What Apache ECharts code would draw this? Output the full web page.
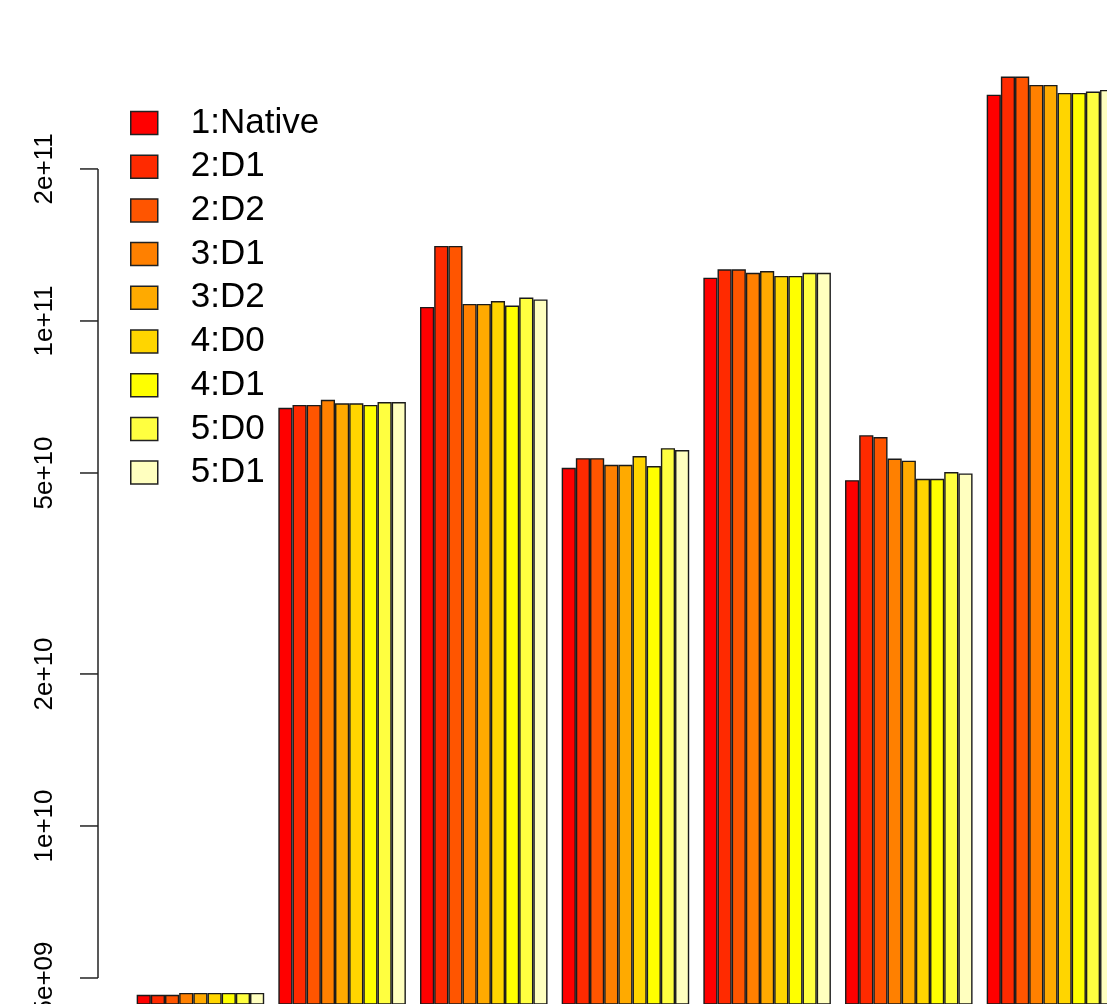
<!DOCTYPE html>
<html>
<head>
<meta charset="utf-8">
<title>Throughput by configuration</title>
<script src="https://cdn.jsdelivr.net/npm/echarts@6/dist/echarts.min.js"></script>
<style>
  html, body { margin: 0; padding: 0; background: #ffffff; }
  #chart { width: 1107px; height: 1004px; }
</style>
</head>
<body>
<div id="chart"></div>
<script>
// Benchmark groups (one cluster of bars each)
const groups = ['Bench 1', 'Bench 2', 'Bench 3', 'Bench 4', 'Bench 5', 'Bench 6', 'Bench 7'];

// Configuration names, in legend / bar order
const variants = ['1:Native', '2:D1', '2:D2', '3:D1', '3:D2', '4:D0', '4:D1', '5:D0', '5:D1'];

// Measured values per configuration, one entry per benchmark group
const native = [4.63e9, 6.73e10, 1.066e11, 5.12e10, 1.218e11, 4.84e10, 2.806e11];
const d2_1   = [4.63e9, 6.82e10, 1.408e11, 5.35e10, 1.266e11, 5.94e10, 3.047e11];
const d2_2   = [4.63e9, 6.82e10, 1.408e11, 5.35e10, 1.266e11, 5.89e10, 3.047e11];
const d3_1   = [4.67e9, 6.98e10, 1.081e11, 5.19e10, 1.246e11, 5.34e10, 2.934e11];
const d3_2   = [4.67e9, 6.87e10, 1.081e11, 5.19e10, 1.256e11, 5.29e10, 2.934e11];
const d4_0   = [4.67e9, 6.87e10, 1.095e11, 5.40e10, 1.228e11, 4.87e10, 2.829e11];
const d4_1   = [4.67e9, 6.82e10, 1.073e11, 5.16e10, 1.228e11, 4.87e10, 2.829e11];
const d5_0   = [4.67e9, 6.91e10, 1.113e11, 5.60e10, 1.246e11, 5.02e10, 2.846e11];
const d5_1   = [4.67e9, 6.91e10, 1.103e11, 5.55e10, 1.246e11, 4.99e10, 2.868e11];
const seriesValues = [native, d2_1, d2_2, d3_1, d3_2, d4_0, d4_1, d5_0, d5_1];

// Y axis ticks and their labels
const yTicks = [5e9, 1e10, 2e10, 5e10, 1e11, 2e11];
const yTickLabels = ['5e+09', '1e+10', '2e+10', '5e+10', '1e+11', '2e+11'];

// heat.colors(9)
const palette = ['#FF0000', '#FF2A00', '#FF5500', '#FF8000', '#FFAA00', '#FFD500', '#FFFF00', '#FFFF40', '#FFFFBF'];

const FONT = '"Liberation Sans", Arial, Helvetica, sans-serif';
const BAR_W = 14.17;
const AXIS_X = 98;

const barSeries = variants.map((name, i) => ({
  name: name,
  type: 'bar',
  data: seriesValues[i],
  barWidth: BAR_W,
  barGap: '0%',
  itemStyle: { color: palette[i], borderColor: '#1a1a1a', borderWidth: 1.4 },
  emphasis: { disabled: true }
}));

// Hand-drawn log axis: vertical line spanning the tick range, ticks and rotated labels
const axisSeries = {
  type: 'custom',
  name: 'yaxis',
  silent: true,
  clip: false,
  z: 5,
  data: yTicks.map((v, i) => [0, v, i]),
  renderItem: function (params, api) {
    const y = api.coord([0, api.value(1)])[1];
    const idx = api.value(2);
    const children = [
      { type: 'line', shape: { x1: AXIS_X - 18, y1: y, x2: AXIS_X, y2: y },
        style: { stroke: '#222', lineWidth: 1.5 } },
      { type: 'text', x: 45, y: y, rotation: Math.PI / 2,
        style: { text: yTickLabels[idx], x: 0, y: 0, align: 'center', verticalAlign: 'middle',
                 font: '26px ' + FONT, fill: '#000' } }
    ];
    if (idx === 0) {
      const yTop = api.coord([0, yTicks[yTicks.length - 1]])[1];
      children.push({ type: 'line', shape: { x1: AXIS_X, y1: y, x2: AXIS_X, y2: yTop },
        style: { stroke: '#222', lineWidth: 1.5 } });
    }
    return { type: 'group', children: children };
  }
};

const chart = echarts.init(document.getElementById('chart'), null, { renderer: 'canvas' });
chart.setOption({
  animation: false,
  backgroundColor: '#ffffff',
  color: palette,
  grid: { left: 129.6, top: 0, width: 991.7, height: 1004, outerBoundsMode: 'none', containLabel: false },
  legend: {
    data: variants,
    orient: 'vertical',
    left: 130,
    top: 105.5,
    padding: 0,
    itemWidth: 27,
    itemHeight: 23,
    itemGap: 8.7,
    icon: 'rect',
    selectedMode: false,
    itemStyle: { borderColor: '#222', borderWidth: 1.5 },
    textStyle: { fontFamily: FONT, fontSize: 35, color: '#000', lineHeight: 23, padding: [0, 0, 0, 28] }
  },
  xAxis: { type: 'category', data: groups, show: false },
  yAxis: { type: 'log', logBase: 10, min: 4.441e9, max: 4.321e11, show: false },
  series: barSeries.concat([axisSeries])
});
</script>
</body>
</html>
